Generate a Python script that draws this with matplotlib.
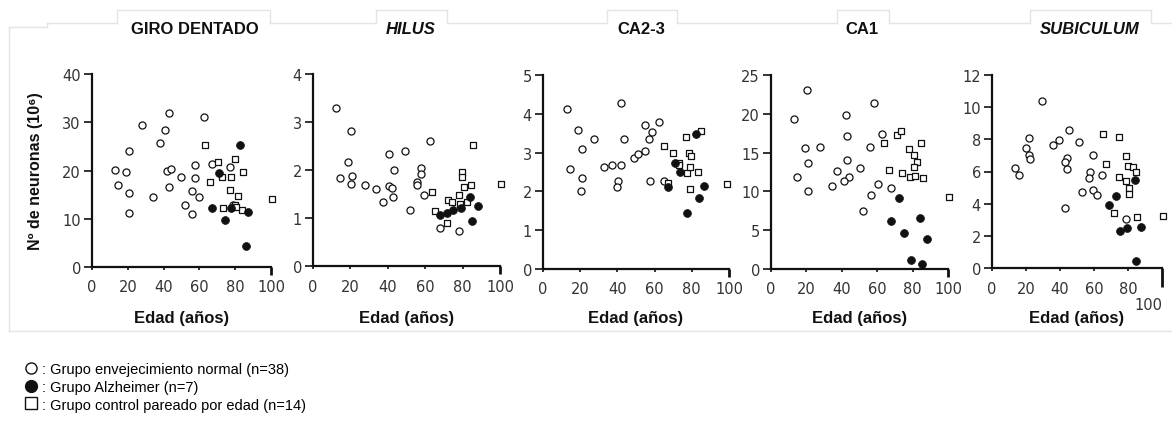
import numpy as np
import matplotlib.pyplot as plt
from matplotlib.lines import Line2D

# ---- datos (edad en años, neuronas x 10^6) ----
titles = ['GIRO DENTADO', 'HILUS', 'CA2-3', 'CA1', 'SUBICULUM']
title_italic = [False, True, False, False, True]
y_max = [40, 4, 5, 25, 12]
y_step = [10, 1, 1, 5, 2]
x_ticks = [0, 20, 40, 60, 80, 100]

# giro dentado
gd_norm_edad = [12.6, 14.7, 18.8, 20.8, 20.8, 20.8, 27.7, 34.0, 38.1, 40.7, 42.8, 41.8, 44.2,
                42.8, 49.8, 51.9, 55.9, 56.1, 57.8, 57.6, 60.0, 62.3, 67.3, 77.1, 79.0]
gd_norm_n = [20.1, 17.0, 19.6, 24.1, 15.3, 11.2, 29.5, 14.5, 25.8, 28.3, 31.9, 19.8, 20.4,
             16.6, 18.7, 12.9, 15.7, 11.0, 21.2, 18.4, 14.6, 31.0, 21.4, 20.7, 12.8]
gd_alz_edad = [71.2, 82.7, 67.1, 74.3, 77.7, 87.4, 86.1]
gd_alz_n = [19.4, 25.3, 12.3, 9.7, 12.3, 11.5, 4.4]
gd_ctrl_edad = [63.2, 65.8, 70.6, 72.5, 77.5, 79.7, 84.4, 77.1, 81.8, 73.4, 79.9, 83.6, 100.7, 80.5]
gd_ctrl_n = [25.2, 17.7, 21.8, 18.6, 18.6, 22.3, 19.7, 15.9, 14.8, 12.2, 12.9, 11.9, 14.0, 12.5]

# hilus
hi_norm_edad = [12.5, 20.4, 18.8, 14.5, 20.7, 20.5, 27.7, 33.9, 37.7, 40.5, 40.9, 42.5, 42.7,
                43.4, 49.3, 51.8, 55.4, 55.5, 57.7, 57.7, 59.5, 62.5, 68.0, 78.2]
hi_norm_n = [3.29, 2.81, 2.17, 1.84, 1.87, 1.70, 1.68, 1.61, 1.33, 2.34, 1.66, 1.62, 1.43,
             1.99, 2.40, 1.16, 1.75, 1.68, 2.05, 1.92, 1.47, 2.60, 0.80, 0.73]
hi_alz_edad = [67.7, 71.8, 75.0, 79.1, 83.9, 84.8, 88.4]
hi_alz_n = [1.06, 1.11, 1.16, 1.21, 1.43, 0.94, 1.25]
hi_ctrl_edad = [63.6, 65.2, 71.6, 72.3, 74.1, 78.2, 79.8, 79.8, 80.5, 82.1, 84.3, 85.4, 100.7, 78.6]
hi_ctrl_n = [1.54, 1.14, 0.89, 1.38, 1.33, 1.48, 1.95, 1.85, 1.65, 1.33, 1.69, 2.53, 1.71, 1.30]

# CA2-3
ca23_norm_edad = [12.7, 14.3, 18.6, 20.8, 20.9, 20.6, 27.4, 32.9, 37.0, 42.0, 42.0, 43.3,
                  40.4, 39.7, 48.8, 51.0, 55.1, 54.9, 56.9, 58.8, 62.1, 57.4, 64.9]
ca23_norm_n = [4.12, 2.57, 3.59, 3.08, 2.34, 2.02, 3.36, 2.64, 2.67, 2.69, 4.27, 3.36,
               2.27, 2.12, 2.86, 2.97, 3.03, 3.70, 3.34, 3.54, 3.78, 2.27, 2.28]
ca23_alz_edad = [67.1, 71.0, 73.9, 82.3, 86.4, 83.7, 77.6]
ca23_alz_n = [2.12, 2.74, 2.50, 3.47, 2.14, 1.84, 1.44]
ca23_ctrl_edad = [64.8, 70.0, 73.3, 77.3, 76.9, 78.7, 79.8, 79.2, 83.4, 85.0, 79.2, 67.3, 99.1, 73.3]
ca23_ctrl_n = [3.17, 2.98, 2.74, 2.48, 3.41, 2.98, 2.90, 2.62, 2.50, 3.55, 2.06, 2.21, 2.20, 2.67]

# CA1
ca1_norm_edad = [12.8, 14.9, 19.0, 20.5, 20.9, 20.7, 27.9, 34.3, 37.5, 42.2, 42.9, 43.1, 43.9,
                 41.4, 50.3, 52.0, 56.1, 56.3, 58.2, 60.3, 62.9, 67.8]
ca1_norm_n = [19.3, 11.9, 15.6, 23.1, 13.6, 10.0, 15.7, 10.7, 12.6, 19.9, 17.1, 14.0, 11.9,
              11.4, 13.0, 7.5, 15.7, 9.6, 21.4, 11.0, 17.4, 10.4]
ca1_alz_edad = [72.5, 67.8, 74.9, 84.4, 88.1, 79.3, 85.1]
ca1_alz_n = [9.2, 6.2, 4.6, 6.6, 3.9, 1.2, 0.6]
ca1_ctrl_edad = [64.0, 66.7, 71.2, 73.6, 74.2, 78.2, 80.6, 82.7, 80.6, 78.5, 81.4, 84.7, 85.9, 100.6]
ca1_ctrl_n = [16.3, 12.8, 17.3, 17.8, 12.4, 15.4, 14.7, 13.8, 13.1, 11.8, 12.0, 16.2, 11.7, 9.3]

# subiculum
sub_norm_edad = [13.7, 15.7, 20.0, 21.8, 22.0, 22.2, 29.2, 35.7, 39.4, 45.3, 44.3, 43.1,
                 44.1, 42.9, 51.2, 53.1, 57.5, 57.3, 59.2, 59.4, 61.6, 64.7, 78.8]
sub_norm_n = [6.20, 5.76, 7.46, 8.06, 7.02, 6.76, 10.39, 7.64, 7.95, 8.57, 6.84, 6.59,
              6.16, 3.70, 7.83, 4.73, 5.95, 5.60, 7.05, 4.88, 4.52, 5.79, 3.06]
sub_alz_edad = [84.1, 73.1, 69.0, 75.1, 79.4, 87.8, 84.9]
sub_alz_n = [5.48, 4.50, 3.90, 2.31, 2.48, 2.52, 0.41]
sub_ctrl_edad = [65.3, 74.7, 67.3, 78.8, 80.0, 82.7, 84.5, 74.5, 78.8, 80.6, 80.8, 71.8, 85.5, 100.4]
sub_ctrl_n = [8.33, 8.16, 6.47, 6.96, 6.36, 6.30, 5.99, 5.68, 5.39, 4.98, 4.63, 3.45, 3.20, 3.22]

norm = [(gd_norm_edad, gd_norm_n), (hi_norm_edad, hi_norm_n), (ca23_norm_edad, ca23_norm_n),
        (ca1_norm_edad, ca1_norm_n), (sub_norm_edad, sub_norm_n)]
alz = [(gd_alz_edad, gd_alz_n), (hi_alz_edad, hi_alz_n), (ca23_alz_edad, ca23_alz_n),
       (ca1_alz_edad, ca1_alz_n), (sub_alz_edad, sub_alz_n)]
ctrl = [(gd_ctrl_edad, gd_ctrl_n), (hi_ctrl_edad, hi_ctrl_n), (ca23_ctrl_edad, ca23_ctrl_n),
        (ca1_ctrl_edad, ca1_ctrl_n), (sub_ctrl_edad, sub_ctrl_n)]

legend_labels = [': Grupo envejecimiento normal (n=38)',
                 ': Grupo Alzheimer (n=7)',
                 ': Grupo control pareado por edad (n=14)']

# ---- figura ----
W, H = 1172, 427
fig = plt.figure(figsize=(W / 100, H / 100), dpi=100)
ink = '#111111'
bold_font = ['Liberation Sans', 'DejaVu Sans']

# posicion de cada panel en pixeles: izquierda, derecha, arriba, abajo
boxes = [(92, 271, 75, 268), (313, 500, 75, 267), (543, 729, 76, 270),
         (771, 948, 76, 270), (992, 1162, 76, 269)]
title_x = [195, 411, 641, 862, 1090]

for i, (l, r, t, b) in enumerate(boxes):
    ax = fig.add_axes([l / W, 1 - b / H, (r - l) / W, (b - t) / H])
    ax.set_xlim(0, 100)
    ax.set_ylim(0, y_max[i])
    for s in ['top', 'right']:
        ax.spines[s].set_visible(False)
    for s in ['left', 'bottom']:
        ax.spines[s].set_linewidth(1.6)
        ax.spines[s].set_color(ink)

    ax.scatter(*norm[i], s=26, facecolors='white', edgecolors=ink, linewidths=0.9,
               clip_on=False, zorder=3)
    ax.scatter(*ctrl[i], s=19, marker='s', facecolors='white', edgecolors=ink,
               linewidths=0.9, clip_on=False, zorder=3)
    ax.scatter(*alz[i], s=32, facecolors=ink, edgecolors=ink, linewidths=0.5,
               clip_on=False, zorder=4)

    ax.set_xticks(x_ticks)
    ax.set_yticks(np.arange(0, y_max[i] + 0.1, y_step[i]))
    ax.tick_params(axis='x', direction='out', length=2, width=1.2, pad=7,
                   labelsize=10.5, colors=ink, labelcolor='#333333')
    ax.tick_params(axis='y', direction='out', length=6, width=1.2, pad=2,
                   labelsize=10.5, colors=ink, labelcolor='#333333')
    last = ax.xaxis.get_major_ticks()[-1]
    if i == 4:
        last._apply_params(size=14, width=2)
        last.label1.set_horizontalalignment('right')
    else:
        last.tick1line.set_markersize(6)
        last.tick1line.set_markeredgewidth(2)

    fig.text(title_x[i] / W, 1 - 30 / H, titles[i], fontsize=12, fontweight='bold',
             family=bold_font, style='italic' if title_italic[i] else 'normal',
             color=ink, ha='center', va='center')
    fig.text((l + r) / 2 / W, 1 - 319 / H, 'Edad (años)', fontsize=12,
             fontweight='bold', family=bold_font, color=ink, ha='center', va='center')
    if i == 0:
        ax.set_ylabel('Nº de neuronas (10⁶)', fontsize=11.5, fontweight='bold',
                      family=bold_font, color=ink, labelpad=14)

# marco gris claro de fondo (pestañas)
grey = '#e4e4e4'
tabs = [(117, 270), (376, 447), (607, 677), (837, 889), (1030, 1151)]
frame = [((9, 9), (28, 332)), ((9, 47), (28, 28)), ((47, 47), (28, 24)),
         ((9, 1172), (332, 332))]
gaps = [47] + [v for tab in tabs for v in tab] + [1172]
for k in range(0, len(gaps), 2):
    frame.append(((gaps[k], gaps[k + 1]), (24, 24)))
for l, r in tabs:
    frame.append(((l, l, r, r), (24, 11, 11, 24)))
for xs, ys in frame:
    fig.add_artist(Line2D([x / W for x in xs], [1 - y / H for y in ys],
                          color=grey, lw=1))

handles = [Line2D([], [], ls='', marker='o', ms=8, mfc='white', mec=ink, mew=1),
           Line2D([], [], ls='', marker='o', ms=8.5, mfc=ink, mec=ink),
           Line2D([], [], ls='', marker='s', ms=8, mfc='white', mec=ink, mew=1)]
fig.legend(handles, legend_labels, loc='upper left', bbox_to_anchor=(16 / W, 1 - 356 / H),
           frameon=False, handlelength=1, handletextpad=0.3,
           labelspacing=0.25, borderpad=0, prop={'family': 'Liberation Sans', 'size': 10.5})

fig.savefig('out.png', dpi=100, facecolor='white')
